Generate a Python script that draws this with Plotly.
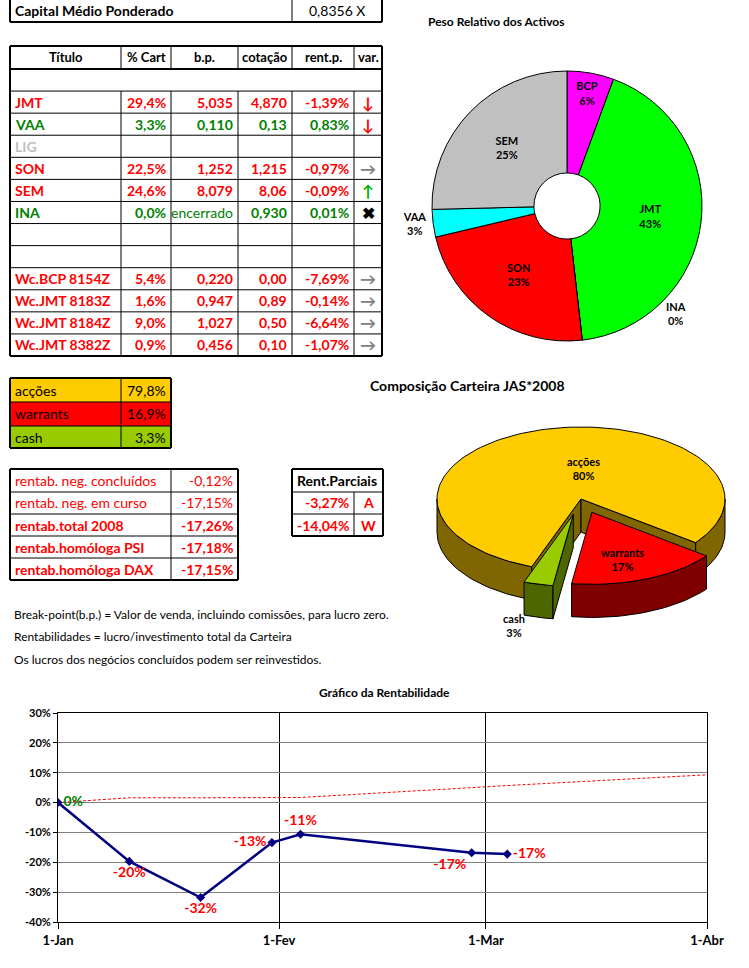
import math
import plotly.graph_objects as go

W, H = 749, 968
FONT = "Lato"

# ---------------- dados ----------------
capital_label = "Capital Médio Ponderado"
capital_value = "0,8356 X"

col_headers = ["Título", "% Cart", "b.p.", "cotação", "rent.p.", "var."]
titulos = ["", "JMT", "VAA", "LIG", "SON", "SEM", "INA", "", "",
           "Wc.BCP 8154Z", "Wc.JMT 8183Z", "Wc.JMT 8184Z", "Wc.JMT 8382Z"]
pct_cart = ["", "29,4%", "3,3%", "", "22,5%", "24,6%", "0,0%", "", "",
            "5,4%", "1,6%", "9,0%", "0,9%"]
break_point = ["", "5,035", "0,110", "", "1,252", "8,079", "encerrado", "", "",
               "0,220", "0,947", "1,027", "0,456"]
cotacao = ["", "4,870", "0,13", "", "1,215", "8,06", "0,930", "", "",
           "0,00", "0,89", "0,50", "0,10"]
rent_p = ["", "-1,39%", "0,83%", "", "-0,97%", "-0,09%", "0,01%", "", "",
          "-7,69%", "-0,14%", "-6,64%", "-1,07%"]
variacao = ["", "desce", "desce", "", "igual", "sobe", "fechado", "", "",
            "igual", "igual", "igual", "igual"]
estado = ["", "perda", "ganho", "inactivo", "perda", "perda", "ganho", "", "",
          "perda", "perda", "perda", "perda"]

comp_labels = ["acções", "warrants", "cash"]
comp_values = [79.8, 16.9, 3.3]

rentab_labels = ["rentab. neg. concluídos", "rentab. neg. em curso", "rentab.total 2008",
                 "rentab.homóloga PSI", "rentab.homóloga DAX"]
rentab_values = ["-0,12%", "-17,15%", "-17,26%", "-17,18%", "-17,15%"]
rentab_bold = [False, False, True, True, True]

parciais_titulo = "Rent.Parciais"
parciais_values = ["-3,27%", "-14,04%"]
parciais_tipo = ["A", "W"]

notas = ["Break-point(b.p.) = Valor de venda, incluindo comissões, para lucro zero.",
         "Rentabilidades = lucro/investimento total da Carteira",
         "Os lucros dos negócios concluídos podem ser reinvestidos."]

peso_labels = ["BCP", "JMT", "INA", "SON", "VAA", "SEM"]
peso_values = [5.6, 42.6, 0.0, 23.1, 3.3, 25.4]

datas = ["2008-01-01", "2008-01-11", "2008-01-21", "2008-01-31", "2008-02-04", "2008-02-28", "2008-03-04"]
rentabilidade = [0.0, -0.197, -0.318, -0.134, -0.106, -0.168, -0.1726]
ref_datas = datas + ["2008-04-01"]
ref_valores = [0.0, 0.016, 0.016, 0.016, 0.017, 0.050, 0.057, 0.093]
x_ticks = ["2008-01-01", "2008-02-01", "2008-03-01", "2008-04-01"]
x_ticktext = ["1-Jan", "1-Fev", "1-Mar", "1-Abr"]
y_ticks = [-0.4, -0.3, -0.2, -0.1, 0.0, 0.1, 0.2, 0.3]
y_ticktext = ["-40%", "-30%", "-20%", "-10%", "0%", "10%", "20%", "30%"]


# ---------------- helpers ----------------
def px(x):
    return x / W


def py(y):
    return 1 - y / H


def bold(v):
    return "<b>" + v + "</b>" if v else v


estado_cor = {"perda": "#FF0000", "ganho": "#008000", "inactivo": "#C0C0C0", "": "black"}
seta = {"desce": "↓", "sobe": "↑", "igual": "→", "fechado": "✖", "": ""}
seta_cor = {"desce": "#FF0000", "sobe": "#00B000", "igual": "#808080", "fechado": "black", "": "black"}

fig = go.Figure()
shapes = []
annotations = []


def linha(x0, y0, x1, y1, w):
    shapes.append(dict(type="line", x0=x0, y0=y0, x1=x1, y1=y1, line=dict(color="black", width=w)))


def tabela(xs, ys, linhas, cores, aligns, size, fills=None, merged=(), grossas=()):
    # fundo das linhas
    if fills:
        for r, f in enumerate(fills):
            if f:
                shapes.append(dict(type="rect", x0=xs[0], x1=xs[-1], y0=ys[r], y1=ys[r + 1],
                                   fillcolor=f, line=dict(width=0)))
    # grelha
    for i, y in enumerate(ys):
        linha(xs[0], y, xs[-1], y, 2 if i in (0, len(ys) - 1) or i in grossas else 1)
    for j, x in enumerate(xs):
        if j in (0, len(xs) - 1):
            linha(x, ys[0], x, ys[-1], 2)
        else:
            for r in range(len(ys) - 1):
                if r not in merged:
                    linha(x, ys[r], x, ys[r + 1], 1)
    # textos
    for r, row in enumerate(linhas):
        yc = (max(ys[r], 0) + ys[r + 1]) / 2
        for c, txt in enumerate(row):
            if not txt:
                continue
            al = aligns[r][c] if isinstance(aligns[r], list) else aligns[r]
            x0 = xs[c]
            x1 = xs[-1] if r in merged else xs[c + 1]
            if al == "left":
                xa, anc = x0 + 3, "left"
            elif al == "right":
                xa, anc = x1 - 3, "right"
            else:
                xa, anc = (x0 + x1) / 2, "center"
            annotations.append(dict(x=px(xa), y=py(yc), text=txt, xanchor=anc,
                                    font=dict(size=size[r][c] if isinstance(size, list) else size,
                                              color=cores[r][c])))


# caixa do capital (topo cortado pela margem da imagem)
tabela([10, 292, 382], [-6, 22], [[bold(capital_label), capital_value]], [["black", "black"]],
       [["left", "center"]], 14)

# tabela principal
n = len(titulos)
passo = (356 - 69) / n
ys_main = [46, 69] + [69 + passo * (i + 1) for i in range(n)]
linhas = [[bold(h) for h in col_headers]]
cores = [["black"] * 6]
tamanhos = [[13] * 6]
for i in range(n):
    cels = [titulos[i], pct_cart[i], break_point[i], cotacao[i], rent_p[i]]
    linhas.append([v if v == "encerrado" else bold(v) for v in cels] + [bold(seta[variacao[i]])])
    cores.append([estado_cor[estado[i]]] * 5 + [seta_cor[variacao[i]]])
    tamanhos.append([14, 14, 14, 14, 14, 16])
aligns = ["center"] + [["left", "right", "right", "right", "right", "center"]] * n
tabela([10, 121, 171, 238, 292, 354, 382], ys_main, linhas, cores, aligns, tamanhos,
       merged=(1,), grossas=(1,))

# composicao
comp_cores = ["#FFCC00", "#FF0000", "#99CC00"]
comp_txt = [f"{v:.1f}%".replace(".", ",") for v in comp_values]
tabela([10, 121, 171], [378, 402, 426, 448], [[l, v] for l, v in zip(comp_labels, comp_txt)],
       [["black", "black"]] * 3, [["left", "right"]] * 3, 14, fills=comp_cores)

# rentabilidades
tabela([10, 171, 238], [469, 492, 514, 536, 558, 580],
       [[bold(l) if b else l, bold(v) if b else v] for l, v, b in zip(rentab_labels, rentab_values, rentab_bold)],
       [["#FF0000", "#FF0000"]] * 5, [["left", "right"]] * 5, 14)

# rent. parciais
tabela([292, 354, 383], [469, 492, 514, 536],
       [[bold(parciais_titulo), ""]] + [[bold(v), bold(t)] for v, t in zip(parciais_values, parciais_tipo)],
       [["black", "black"]] + [["#FF0000", "#FF0000"]] * 2,
       ["left", ["right", "center"], ["right", "center"]], 14, merged=(0,))

# ---------------- peso relativo (donut) ----------------
peso_cores = ["#FF00FF", "#00FF00", "#FFFF00", "#FF0000", "#00FFFF", "#C0C0C0"]
fig.add_trace(go.Pie(
    labels=peso_labels, values=peso_values, sort=False, direction="clockwise", rotation=0,
    hole=0.245, domain=dict(x=[px(432), px(702)], y=[py(341), py(71)]),
    marker=dict(colors=peso_cores, line=dict(color="black", width=1)),
    texttemplate="<b>%{label}</b><br><b>%{percent:.0%}</b>",
    textposition=["inside", "inside", "none", "inside", "outside", "inside"],
    insidetextorientation="horizontal",
    textfont=dict(family=FONT, size=11, color="black"), showlegend=False, hoverinfo="label+percent"))

# ---------------- composicao (pie 3D) ----------------
B = 0.5
D = 0.23
S2 = 144.0
CX2, CY2 = 581.0, 499.0
arranque = 110.0
explode = [0.0, 0.2, 0.22]
lado_cores = ["#806600", "#800000", "#4D6600"]
label_pos = [(0.014, -0.215), (0.29, 0.42), (-0.465, 0.875)]


def ponto(t, off, dz=0.0, r=1.0):
    a = math.radians(t)
    return off[0] + r * math.cos(a), off[1] + B * r * math.sin(a) + dz


def arco(t1, t2, off, dz=0.0):
    k = max(2, int(abs(t2 - t1) / 2) + 2)
    pts = [ponto(t1 + (t2 - t1) * i / (k - 1), off, dz) for i in range(k)]
    return [p[0] for p in pts], [p[1] for p in pts]


def poligono(xs, ys, cor):
    fig.add_trace(go.Scatter(x=xs + [xs[0]], y=ys + [ys[0]], mode="lines", fill="toself",
                             fillcolor=cor, line=dict(color="black", width=1),
                             xaxis="x2", yaxis="y2", hoverinfo="skip", showlegend=False))


total = sum(comp_values)
t = arranque
for i, v in enumerate(comp_values):
    t1, t2 = t, t + 360.0 * v / total
    t = t2
    m = math.radians((t1 + t2) / 2)
    off = (explode[i] * math.cos(m), B * explode[i] * math.sin(m))
    # paredes exteriores visiveis
    for k in range(-1, 3):
        lo, hi = max(t1, 360 * k), min(t2, 360 * k + 180)
        if hi > lo:
            xa, ya = arco(lo, hi, off)
            xb, yb = arco(hi, lo, off, D)
            poligono(xa + xb, ya + yb, lado_cores[i])
    # faces radiais visiveis
    for ang, vis in ((t1, math.cos(math.radians(t1)) < 0), (t2, math.cos(math.radians(t2)) > 0)):
        if vis:
            p1, p2 = ponto(ang, off), ponto(ang, off, D)
            poligono([off[0], p1[0], p2[0], off[0]], [off[1], p1[1], p2[1], off[1] + D], lado_cores[i])
    # topo
    xa, ya = arco(t1, t2, off)
    poligono([off[0]] + xa, [off[1]] + ya, comp_cores[i])
    fig.add_annotation(x=label_pos[i][0], y=label_pos[i][1], xref="x2", yref="y2", showarrow=False,
                       text=f"<b>{comp_labels[i]}</b><br><b>{v / total * 100:.0f}%</b>",
                       font=dict(family=FONT, size=11, color="black"))

# ---------------- grafico da rentabilidade ----------------
fig.add_trace(go.Scatter(x=ref_datas, y=ref_valores, mode="lines",
                         line=dict(color="#FF0000", width=1, dash="3px,2px"),
                         xaxis="x", yaxis="y", showlegend=False, hoverinfo="skip"))
lbl_pos = ["middle right", "bottom center", "bottom center", "middle left", "top center",
           "bottom left", "middle right"]
lbl_cor = ["#008000" if v == 0 else "#FF0000" for v in rentabilidade]
fig.add_trace(go.Scatter(x=datas, y=rentabilidade, mode="lines+markers+text",
                         line=dict(color="#000080", width=2.5),
                         marker=dict(symbol="diamond", size=7, color="#000080"),
                         text=[bold(f"{v * 100:.0f}%") for v in rentabilidade],
                         textposition=lbl_pos, textfont=dict(family=FONT, size=14, color=lbl_cor),
                         xaxis="x", yaxis="y", showlegend=False))

annotations += [
    dict(x=px(567), y=py(22), text="<b>Peso Relativo dos Activos</b>", font=dict(size=12)),
    dict(x=px(567), y=py(386), text="<b>Composição Carteira JAS*2008</b>", font=dict(size=14)),
    dict(x=px(384), y=py(692), text="<b>Gráfico da Rentabilidade</b>", font=dict(size=12)),
    dict(x=px(688), y=py(313), text=f"<b>{peso_labels[2]}</b><br><b>{peso_values[2]:.0f}%</b>",
         font=dict(size=11)),
]
for j, nota in enumerate(notas):
    annotations.append(dict(x=px(12), y=py(614 + 22.5 * j), text=nota, xanchor="left", font=dict(size=12)))
for a in annotations:
    fig.add_annotation(xref="paper", yref="paper", showarrow=False, yanchor="middle", **a)

for s in shapes:
    s["x0"], s["x1"] = px(s["x0"]), px(s["x1"])
    s["y0"], s["y1"] = py(s["y0"]), py(s["y1"])
    fig.add_shape(xref="paper", yref="paper", layer="above", **s)

fig.update_layout(
    width=W, height=H, margin=dict(l=0, r=0, t=0, b=0, autoexpand=False),
    paper_bgcolor="white", plot_bgcolor="white", showlegend=False,
    font=dict(family=FONT, size=11, color="black"),
    xaxis=dict(domain=[px(58), px(707)], range=["2008-01-01", "2008-04-01"], type="date",
               tickvals=x_ticks, ticktext=[bold(s) for s in x_ticktext], tickfont=dict(size=13),
               showgrid=True, gridcolor="black", gridwidth=1, showline=True, linecolor="black",
               mirror=True, ticks="outside", ticklen=6, tickcolor="black", zeroline=False,
               anchor="y", automargin=False),
    yaxis=dict(domain=[py(922), py(713)], range=[-0.4, 0.3], tickvals=y_ticks,
               ticktext=[bold(s) for s in y_ticktext], tickfont=dict(size=11),
               showgrid=True, gridcolor="#808080", gridwidth=1, showline=True, linecolor="black",
               mirror=True, ticks="outside", ticklen=4, tickcolor="black", zeroline=False,
               anchor="x", automargin=False),
    xaxis2=dict(domain=[px(400), px(749)], range=[(400 - CX2) / S2, (749 - CX2) / S2],
                visible=False, anchor="y2", automargin=False),
    yaxis2=dict(domain=[py(650), py(415)], range=[(650 - CY2) / S2, (415 - CY2) / S2],
                visible=False, anchor="x2", automargin=False),
)

fig.write_html("out.html", config={"displayModeBar": False},
               post_script="document.body.style.margin='0';document.body.style.overflow='hidden';")
